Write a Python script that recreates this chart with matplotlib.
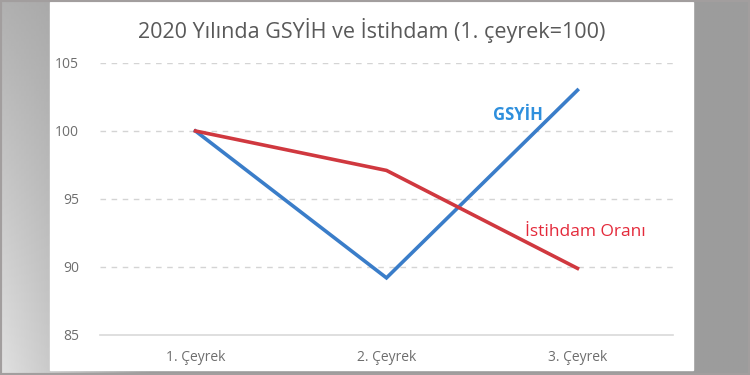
import numpy as np
import matplotlib
matplotlib.use("Agg")
import matplotlib.pyplot as plt

plt.rcParams['font.family'] = ['Open Sans', 'DejaVu Sans']

quarters = ['1. Çeyrek', '2. Çeyrek', '3. Çeyrek']
gsyih = [100, 89.2, 103.0]
istihdam = [100, 97.1, 89.9]
y_ticks = [85, 90, 95, 100, 105]

fig = plt.figure(figsize=(7.5, 3.75), dpi=100)

# grey backdrop with a soft gradient on the left
bg = fig.add_axes([0, 0, 1, 1], zorder=0)
xx = np.linspace(0, 1, 300)
yy = np.linspace(0, 1, 150)
X, Y = np.meshgrid(xx, yy)
shade = 0.61 + 0.27 * np.clip(1 - X * 5, 0, 1) * (0.3 + 0.7 * Y)
bg.imshow(shade, cmap='gray', vmin=0, vmax=1, extent=[0, 1, 0, 1], aspect='auto')
bg.add_patch(plt.Rectangle((0.0667, 0.013), 0.857, 0.982, color='white', zorder=2))
bg.add_patch(plt.Rectangle((0, 0), 1, 1, fill=False, ec='#a29e9e', lw=3, zorder=3))
bg.set_xlim(0, 1)
bg.set_ylim(0, 1)
bg.axis('off')

ax = fig.add_axes([0.1333, 0.1067, 0.764, 0.7253], zorder=1)
ax.patch.set_alpha(0)
x = np.arange(len(quarters))
ax.plot(x, gsyih, color='#3a7dc9', lw=2.6, solid_joinstyle='miter')
ax.plot(x, istihdam, color='#d0383f', lw=2.6, solid_joinstyle='miter')

ax.set_xlim(-0.5, 2.5)
ax.set_ylim(85, 105)
ax.set_yticks(y_ticks)
ax.set_xticks(x)
ax.set_xticklabels(quarters)
ax.tick_params(length=0, labelsize=10, colors='#6e6e6e', pad=11)
ax.tick_params(axis='y', pad=15)
for t in y_ticks[1:]:
    ax.axhline(t, color='#d4d4d4', lw=1, ls=(0, (4, 4)), zorder=0)
for s in ['top', 'right', 'left']:
    ax.spines[s].set_visible(False)
ax.spines['bottom'].set_color('#d9d9d9')
ax.spines['bottom'].set_linewidth(1.2)

ax.text(1.69, 101.2, 'GSYİH', color='#2e8fdd', fontsize=12, fontweight='bold',
        ha='center', va='center')
ax.text(1.725, 92.6, 'İstihdam Oranı', color='#e42a3b', fontsize=12.5,
        ha='left', va='center')

fig.text(0.496, 0.918, '2020 Yılında GSYİH ve İstihdam (1. çeyrek=100)',
         ha='center', va='center', fontsize=15.5, color='#595959')

fig.savefig('out.png', dpi=100)
